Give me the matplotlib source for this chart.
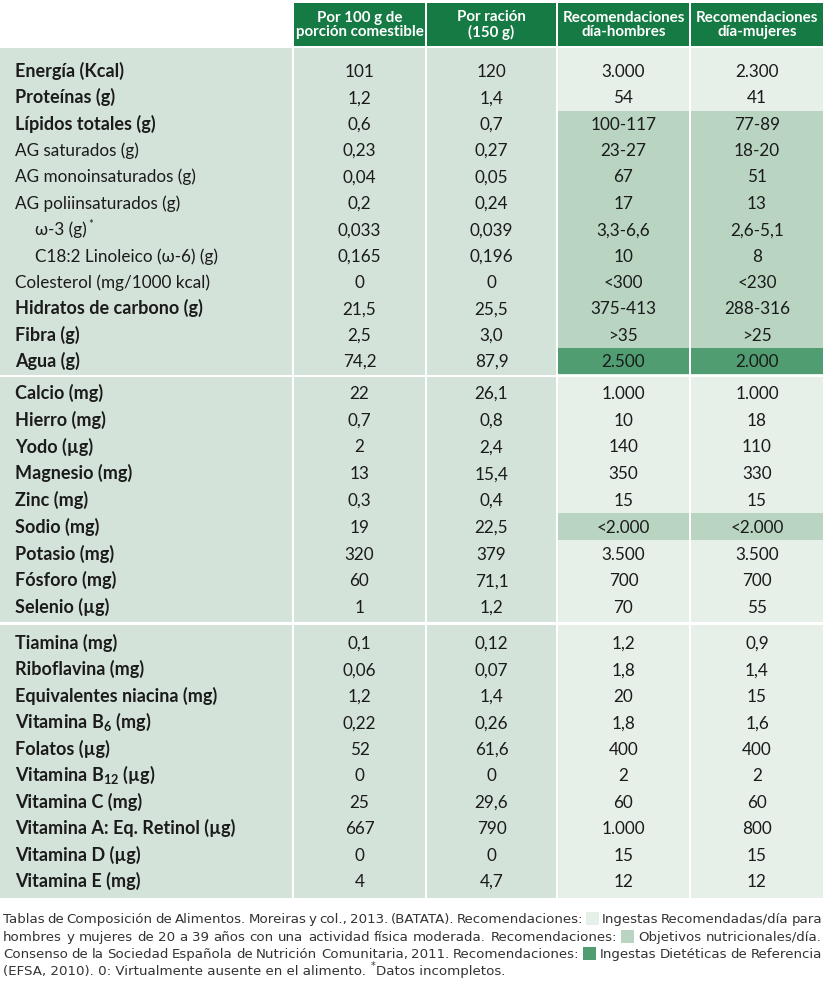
import matplotlib.pyplot as plt
from matplotlib.patches import Rectangle

plt.rcParams['font.family'] = ['Lato', 'DejaVu Sans']
plt.rcParams['mathtext.fontset'] = 'custom'
plt.rcParams['mathtext.rm'] = 'Lato'
plt.rcParams['mathtext.bf'] = 'Lato:bold'

# -------------------------------
# DATA
# -------------------------------
headers = ["Por 100 g de\nporción comestible", "Por ración\n(150 g)",
           "Recomendaciones\ndía-hombres", "Recomendaciones\ndía-mujeres"]

# section 1: energy and macronutrients
labels1 = ["Energía (Kcal)", "Proteínas (g)", "Lípidos totales (g)", "AG saturados (g)",
           "AG monoinsaturados (g)", "AG poliinsaturados (g)", "ω-3 (g)",
           "C18:2 Linoleico (ω-6) (g)", "Colesterol (mg/1000 kcal)",
           "Hidratos de carbono (g)", "Fibra (g)", "Agua (g)"]
per100_1 = ["101", "1,2", "0,6", "0,23", "0,04", "0,2", "0,033", "0,165", "0", "21,5", "2,5", "74,2"]
racion_1 = ["120", "1,4", "0,7", "0,27", "0,05", "0,24", "0,039", "0,196", "0", "25,5", "3,0", "87,9"]
men_1 = ["3.000", "54", "100-117", "23-27", "67", "17", "3,3-6,6", "10", "<300", "375-413", ">35", "2.500"]
women_1 = ["2.300", "41", "77-89", "18-20", "51", "13", "2,6-5,1", "8", "<230", "288-316", ">25", "2.000"]
bold_1 = [1, 1, 1, 0, 0, 0, 0, 0, 0, 1, 1, 1]
indent_1 = [0, 0, 0, 0, 0, 0, 1, 1, 0, 0, 0, 0]
star_1 = [0, 0, 0, 0, 0, 0, 1, 0, 0, 0, 0, 0]
shade_1 = [0, 0, 1, 1, 1, 1, 1, 1, 1, 1, 1, 2]

# section 2: minerals
labels2 = ["Calcio (mg)", "Hierro (mg)", "Yodo (µg)", "Magnesio (mg)", "Zinc (mg)",
           "Sodio (mg)", "Potasio (mg)", "Fósforo (mg)", "Selenio (µg)"]
per100_2 = ["22", "0,7", "2", "13", "0,3", "19", "320", "60", "1"]
racion_2 = ["26,1", "0,8", "2,4", "15,4", "0,4", "22,5", "379", "71,1", "1,2"]
men_2 = ["1.000", "10", "140", "350", "15", "<2.000", "3.500", "700", "70"]
women_2 = ["1.000", "18", "110", "330", "15", "<2.000", "3.500", "700", "55"]
shade_2 = [0, 0, 0, 0, 0, 1, 0, 0, 0]

# section 3: vitamins
labels3 = ["Tiamina (mg)", "Riboflavina (mg)", "Equivalentes niacina (mg)",
           r"Vitamina B$_{\mathbf{6}}$ (mg)", "Folatos (µg)", r"Vitamina B$_{\mathbf{12}}$ (µg)",
           "Vitamina C (mg)", "Vitamina A: Eq. Retinol (µg)", "Vitamina D (µg)", "Vitamina E (mg)"]
per100_3 = ["0,1", "0,06", "1,2", "0,22", "52", "0", "25", "667", "0", "4"]
racion_3 = ["0,12", "0,07", "1,4", "0,26", "61,6", "0", "29,6", "790", "0", "4,7"]
men_3 = ["1,2", "1,8", "20", "1,8", "400", "2", "60", "1.000", "15", "12"]
women_3 = ["0,9", "1,4", "15", "1,6", "400", "2", "60", "800", "15", "12"]
shade_3 = [0] * 10

footer_lines = [
    ["Tablas de Composición de Alimentos. Moreiras y col., 2013. (BATATA). Recomendaciones:", 1,
     "Ingestas Recomendadas/día para"],
    ["hombres y mujeres de 20 a 39 años con una actividad física moderada. Recomendaciones:", 2,
     "Objetivos nutricionales/día."],
    ["Consenso de la Sociedad Española de Nutrición Comunitaria, 2011. Recomendaciones:", 3,
     "Ingestas Dietéticas de Referencia"],
]
footer_last = "(EFSA, 2010). 0: Virtualmente ausente en el alimento."
footer_star = "Datos incompletos."

# -------------------------------
# STYLE
# -------------------------------
GREEN = "#157a43"
BASE = "#d4e3da"
REC = ["#e7efe9", "#b9d5c2", "#4f9d70"]
TXT = "#1b1b1b"

W, H = 825, 983
fig = plt.figure(figsize=(W / 100, H / 100), dpi=100)
ax = fig.add_axes([0, 0, 1, 1])
ax.set_xlim(0, W)
ax.set_ylim(H, 0)
ax.axis('off')
r = fig.canvas.get_renderer()

cols = [(0, 292), (294, 425), (427, 556), (558, 689), (691, 823)]
FS = 12.3
FSB = 13.0
BASE_OFF = 6.0   # baseline below row centre

# header
for (x0, x1), h in zip(cols[1:], headers):
    ax.add_patch(Rectangle((x0, 3), x1 - x0, 43, color=GREEN, lw=0))
    ax.text((x0 + x1) / 2, 25, h, ha='center', va='center', color='white',
            fontsize=10.9, fontweight='bold', linespacing=1.0)

sections = [
    (labels1, per100_1, racion_1, men_1, women_1, bold_1, indent_1, star_1, shade_1, 48, 375, 71, 26.36),
    (labels2, per100_2, racion_2, men_2, women_2, [1] * 9, [0] * 9, [0] * 9, shade_2, 377, 622, 393, 26.75),
    (labels3, per100_3, racion_3, men_3, women_3, [1] * 10, [0] * 10, [0] * 10, shade_3, 625, 898, 643, 26.44),
]

for labels, p100, rac, men, wom, bold, ind, star, shade, top, bot, c0, step in sections:
    for i, (x0, x1) in enumerate(cols):
        ax.add_patch(Rectangle((x0, top), x1 - x0, bot - top,
                               color=BASE if i < 3 else REC[0], lw=0))
    for k, lab in enumerate(labels):
        cy = c0 + k * step
        if shade[k]:
            ylo = max(top, cy - step / 2)
            yhi = min(bot, cy + step / 2)
            for x0, x1 in cols[3:]:
                ax.add_patch(Rectangle((x0, ylo), x1 - x0, yhi - ylo, color=REC[shade[k]], lw=0))
        t = ax.text(15 + 20 * ind[k], cy + BASE_OFF, lab, ha='left', va='baseline', color=TXT,
                    fontsize=FSB if bold[k] else FS,
                    fontweight='bold' if bold[k] else 'normal')
        if star[k]:
            bb = t.get_window_extent(r)
            ax.text(bb.x1 + 1.5, cy - 5, "*", ha='left', va='center', color=TXT, fontsize=8)
        for (x0, x1), v in zip(cols[1:], [p100[k], rac[k], men[k], wom[k]]):
            ax.text((x0 + x1) / 2, cy + BASE_OFF, v, ha='center', va='baseline',
                    color=TXT, fontsize=FS)

# footer, justified
FFS = 9.6
FFAM = 'DejaVu Sans'
FCOL = "#333333"
BOX = 13
X0, X1 = 3, 822
fy = [918, 936, 953, 970]
FOFF = 4.8


def width_of(s):
    t = ax.text(0, 0, s, fontsize=FFS, family=FFAM)
    w = t.get_window_extent(r).width
    t.remove()
    return w


for (pre, box, post), y in zip(footer_lines, fy):
    items = pre.split() + [box] + post.split()
    widths = [BOX if isinstance(it, int) else width_of(it) for it in items]
    gap = (X1 - X0 - sum(widths)) / (len(items) - 1)
    x = X0
    for it, w in zip(items, widths):
        if isinstance(it, int):
            ax.add_patch(Rectangle((x, y - 6.5), BOX, 13, color=REC[it - 1], lw=0))
        else:
            ax.text(x, y + FOFF, it, ha='left', va='baseline', fontsize=FFS,
                    color=FCOL, family=FFAM)
        x += w + gap

t = ax.text(X0, fy[3] + FOFF, footer_last, ha='left', va='baseline', fontsize=FFS,
            color=FCOL, family=FFAM)
bb = t.get_window_extent(r)
ax.text(bb.x1 + 5, fy[3] - 4, "*", ha='left', va='center', fontsize=7, color=FCOL, family=FFAM)
ax.text(bb.x1 + 10, fy[3] + FOFF, footer_star, ha='left', va='baseline', fontsize=FFS,
        color=FCOL, family=FFAM)

fig.savefig("out.png", dpi=100)
